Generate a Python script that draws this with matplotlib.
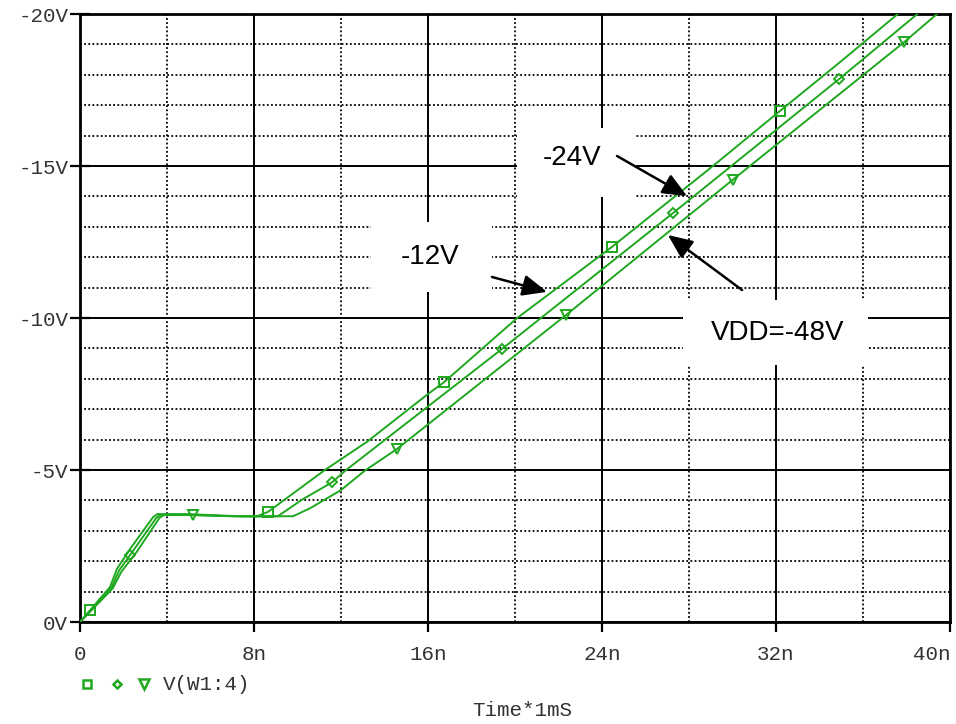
import numpy as np
import matplotlib
matplotlib.use("Agg")
import matplotlib.pyplot as plt
import matplotlib.transforms as mtransforms
from matplotlib.lines import Line2D
from matplotlib.patches import Rectangle

# ---------------- data (time in ns, voltage in V) ----------------
time_sq = [0, 1.38, 1.7, 2.3, 3.36, 3.55, 5.0, 6.5, 8.1, 8.64, 11.26, 13.2, 16.0, 16.74,
           20.1, 24.44, 29.1, 32.2, 35.0, 37.6]
volt_sq = [0, -1.15, -1.75, -2.4, -3.45, -3.55, -3.55, -3.5, -3.47, -3.62, -5.0, -5.93, -7.5, -7.89,
           -10.0, -12.33, -15.0, -16.82, -18.45, -20.0]

time_di = [0, 1.45, 1.8, 2.45, 3.5, 3.7, 5.0, 7.0, 9.1, 10.2, 11.6, 12.2, 19.4, 27.26, 34.9, 38.5]
volt_di = [0, -1.12, -1.7, -2.35, -3.42, -3.53, -3.52, -3.48, -3.48, -4.02, -4.6, -4.98, -8.98, -13.45,
           -17.86, -20.0]

time_tr = [0, 1.5, 1.9, 2.6, 3.65, 3.85, 5.2, 7.5, 9.8, 10.6, 12.0, 13.1, 14.57, 22.35, 30.0, 37.9, 39.4]
volt_tr = [0, -1.1, -1.65, -2.3, -3.42, -3.52, -3.52, -3.47, -3.48, -3.75, -4.34, -4.98, -5.69, -10.1,
           -14.54, -19.08, -20.0]

marks_sq = [0.46, 8.64, 16.74, 24.44, 32.2]
marks_di = [2.3, 11.6, 19.4, 27.26, 34.9]
marks_tr = [5.2, 14.57, 22.35, 30.0, 37.9]

x_ticks = [0, 8, 16, 24, 32, 40]
x_labels = ["0", "8n", "16n", "24n", "32n", "40n"]
y_ticks = [0, -5, -10, -15, -20]
y_labels = ["0V", "-5V", "-10V", "-15V", "-20V"]

legend_label = "V(W1:4)"
x_title = "Time*1mS"

# annotations: (text, text position, arrow tail, arrow tip, white box [x0, y0, x1, y1])
notes = [
    ("-24V", (22.62, -15.26), (24.69, -15.33), (27.91, -14.01), (20.09, -16.25, 25.56, -13.98)),
    ("-12V", (16.09, -12.01), (18.94, -11.35), (21.47, -10.86), (13.38, -13.16, 18.94, -10.86)),
    ("VDD=-48V", (32.09, -9.51), (30.44, -10.92), (27.03, -12.73), (27.72, -10.59, 36.23, -8.45)),
]

# ---------------- figure ----------------
W, H = 956, 724
fig = plt.figure(figsize=(W / 100, H / 100), dpi=100)
ax = fig.add_axes([80 / W, 102 / H, 870 / W, 608 / H])

green = "#1fa81f"
mono = ["Liberation Mono", "DejaVu Sans Mono"]
tick_color = "#333333"

ax.set_xlim(0, 40)
ax.set_ylim(0, -20)

ax.set_xticks(x_ticks)
ax.set_xticklabels(x_labels)
ax.set_yticks(y_ticks)
ax.set_yticklabels(y_labels)
ax.set_xticks(np.arange(4, 40, 8), minor=True)
ax.set_yticks([v for v in range(-19, 0) if v % 5 != 0], minor=True)

for lab in ax.get_xticklabels() + ax.get_yticklabels():
    lab.set_fontfamily(mono)
    lab.set_fontsize(15)
    lab.set_color(tick_color)

# keep the last x label inside the canvas, as in the reference
last = ax.get_xticklabels()[-1]
last.set_horizontalalignment("right")
last.set_transform(last.get_transform() + mtransforms.ScaledTranslation(6 / 100, 0, fig.dpi_scale_trans))

ax.tick_params(axis="x", which="major", direction="out", length=7.5, width=1.6, pad=9)
ax.tick_params(axis="y", which="major", direction="inout", length=15, width=1.6, pad=1)
ax.tick_params(which="minor", length=0)

ax.set_axisbelow(True)
ax.grid(which="major", color="black", lw=1.4, ls="-")
ax.grid(which="minor", color="black", lw=1.3, ls=(0, (1, 1.3)))
for s in ax.spines.values():
    s.set_linewidth(2)
    s.set_color("black")

# white boxes behind annotation text
for _, _, _, _, (x0, y0, x1, y1) in notes:
    ax.add_patch(Rectangle((x0, y0), x1 - x0, y1 - y0, facecolor="white",
                           edgecolor="none", zorder=1.5))

series = [
    (time_sq, volt_sq, marks_sq, "s", 7),
    (time_di, volt_di, marks_di, "D", 5),
    (time_tr, volt_tr, marks_tr, "v", 7.5),
]
for t, v, mk, m, ms in series:
    ax.plot(t, v, color=green, lw=1.4, zorder=3)
    ax.plot(mk, np.interp(mk, t, v), ls="none", marker=m, ms=ms, mfc="none",
            mec=green, mew=1.4, zorder=3)

for text, tpos, tail, tip, _ in notes:
    ax.text(tpos[0], tpos[1], text, fontsize=20, family=["Liberation Sans", "DejaVu Sans"],
            ha="center", va="center", color="black", zorder=4)
    ax.annotate("", xy=tip, xytext=tail,
                arrowprops=dict(arrowstyle="-|>,head_length=1.15,head_width=0.5",
                                mutation_scale=13, lw=1.8, color="black",
                                shrinkA=0, shrinkB=0),
                zorder=5)

# legend line beneath the plot
ly = 1 - 684 / H
for px, m, ms in [(87, "s", 6), (117, "D", 4.5), (144, "v", 6.5)]:
    fig.add_artist(Line2D([px / W], [ly], transform=fig.transFigure, marker=m, ms=ms,
                          mfc="none", mec=green, mew=1.8, ls="none"))
fig.text(163 / W, ly, legend_label, fontsize=15, family=mono, color=tick_color,
         ha="left", va="center")
fig.text(522 / W, 1 - 711 / H, x_title, fontsize=15, family=mono, color=tick_color,
         ha="center", va="center")

fig.savefig("out.png", dpi=100)
